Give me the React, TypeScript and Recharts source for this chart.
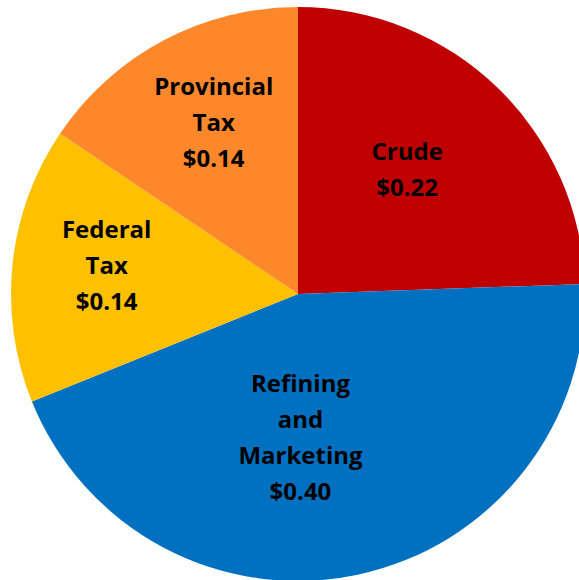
import { Pie, PieChart, Cell } from "recharts";

const names = ["Crude", "Refining and Marketing", "Federal Tax", "Provincial Tax"];
const lines = [["Crude"], ["Refining", "and", "Marketing"], ["Federal", "Tax"], ["Provincial", "Tax"]];
const values = [0.22, 0.4, 0.14, 0.14];
const colors = ["#C00000", "#0070C0", "#FFC000", "#FD872B"];

const data = names.map((name, i) => ({ name, value: values[i], lines: lines[i] }));

// label placement: angle shift (deg) and radius fraction per slice
const place: Record<string, { da: number; r: number }> = {
  Crude: { da: 3, r: 0.58 },
  "Refining and Marketing": { da: -11, r: 0.495 },
  "Federal Tax": { da: -3, r: 0.675 },
  "Provincial Tax": { da: -2, r: 0.67 },
};

const RAD = Math.PI / 180;
const LH = 36;

function renderLabel(props: any) {
  const { cx, cy, midAngle, outerRadius, payload, value } = props;
  const p = place[payload.name];
  const a = midAngle + p.da;
  const r = outerRadius * p.r;
  const x = cx + Math.cos(-a * RAD) * r;
  const y = cy + Math.sin(-a * RAD) * r;
  const all = [...payload.lines, `$${value.toFixed(2)}`];
  const top = y - ((all.length - 1) * LH) / 2;
  return (
    <text
      x={x}
      y={top}
      textAnchor="middle"
      dominantBaseline="central"
      fill="#000"
      fontFamily="'Open Sans'"
      fontWeight="bold"
      fontSize={24}
    >
      {all.map((t, i) => (
        <tspan key={i} x={x} y={top + i * LH}>
          {t}
        </tspan>
      ))}
    </text>
  );
}

export default function App() {
  return (
    <div style={{ position: "fixed", left: 0, top: 0, width: 579, height: 580, overflow: "hidden", background: "#fff" }}>
      <PieChart width={600} height={600} margin={{ top: 0, right: 0, bottom: 0, left: 0 }}>
        <Pie
          data={data}
          dataKey="value"
          nameKey="name"
          cx={298}
          cy={294}
          outerRadius={287}
          startAngle={90}
          endAngle={-270}
          stroke="none"
          label={renderLabel}
          labelLine={false}
          isAnimationActive={false}
        >
          {data.map((d, i) => (
            <Cell key={d.name} fill={colors[i]} />
          ))}
        </Pie>
      </PieChart>
    </div>
  );
}
